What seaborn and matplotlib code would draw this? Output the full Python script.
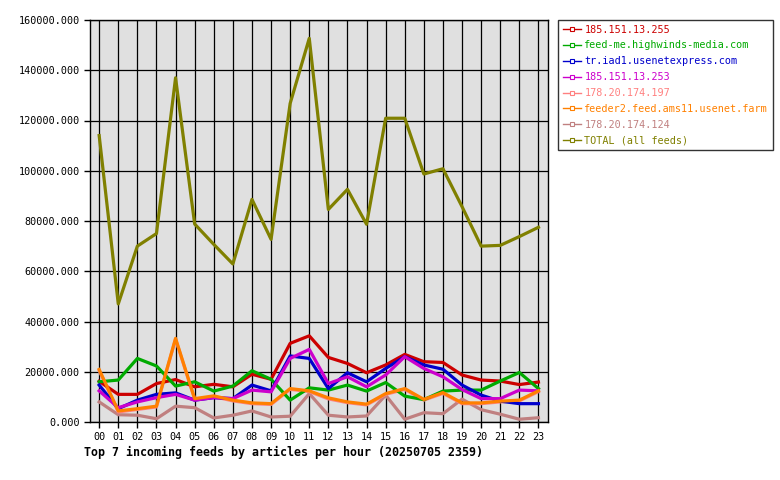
import matplotlib
matplotlib.use('Agg')
import matplotlib.pyplot as plt
from matplotlib.lines import Line2D
import seaborn as sns
import pandas as pd

# Data (articles per hour)
hours = ['00', '01', '02', '03', '04', '05', '06', '07', '08', '09', '10', '11',
         '12', '13', '14', '15', '16', '17', '18', '19', '20', '21', '22', '23']

feed_names = ['185.151.13.255', 'feed-me.highwinds-media.com', 'tr.iad1.usenetexpress.com',
              '185.151.13.253', '178.20.174.197', 'feeder2.feed.ams11.usenet.farm',
              '178.20.174.124', 'TOTAL (all feeds)']
feed_colors = ['#cc0000', '#00aa00', '#0000cc', '#cc00cc', '#ff8080', '#ff8000',
               '#c08080', '#808000']

red_255 = [16200, 11000, 11000, 15300, 16900, 14000, 15000, 14000, 19000, 17000, 31300, 34300,
           25700, 23300, 19600, 22700, 26900, 24000, 23700, 18700, 16700, 16300, 14900, 15900]
green_feedme = [16000, 16700, 25300, 22300, 14300, 16000, 12300, 14300, 20400, 17000, 8700, 13600,
                12700, 14700, 12300, 15700, 10300, 8900, 12300, 12700, 12700, 16300, 19700, 13300]
blue_iad1 = [14700, 5300, 8700, 11000, 11600, 8700, 9700, 9300, 14700, 12400, 26300, 25300,
             13300, 19600, 16000, 21300, 26000, 22700, 21000, 14700, 10700, 8300, 7300, 7300]
magenta_253 = [12400, 5700, 8000, 9700, 11000, 8700, 9700, 9300, 12700, 12000, 25300, 28900,
               15300, 18000, 14000, 18700, 26000, 21300, 18000, 12900, 9300, 9300, 12700, 12400]
salmon_197 = [20500, 4000, 5000, 6000, 33000, 9000, 10100, 8400, 7300, 7000, 13000, 12100,
              9200, 7700, 6800, 11000, 13000, 8700, 11400, 7300, 7300, 8000, 8400, 12100]
orange_farm = [20900, 4400, 5300, 6300, 33300, 9300, 10400, 8700, 7600, 7300, 13300, 12400,
               9600, 8000, 7100, 11300, 13300, 9000, 11700, 7600, 7600, 8300, 8700, 12400]
brown_124 = [8000, 2900, 2700, 1300, 6300, 5700, 1600, 2700, 4400, 2000, 2300, 11300,
             2700, 2000, 2400, 10700, 1100, 3700, 3300, 9100, 4900, 3100, 1100, 1700]
total_all = [114000, 47000, 70000, 75000, 137000, 78800, 70700, 62900, 88600, 72700, 126800, 152700,
             84600, 92600, 78700, 120900, 120900, 98700, 100800, 85700, 70000, 70300, 73800, 77500]

series = [red_255, green_feedme, blue_iad1, magenta_253, salmon_197, orange_farm, brown_124, total_all]

rows = []
for name, vals in zip(feed_names, series):
    for h, v in enumerate(vals):
        rows.append({'hour': h, 'articles': v, 'feed': name})
df = pd.DataFrame(rows)

plt.rcParams['font.family'] = ['DejaVu Sans Mono']
plt.rcParams['font.size'] = 7.3

fig = plt.figure(figsize=(7.8, 4.8), dpi=100)
ax = fig.add_axes([90 / 780, 1 - 422 / 480, 458 / 780, 402 / 480])
ax.set_facecolor('#e0e0e0')

# drawing order: TOTAL underneath, orange on top
order = [feed_names[i] for i in (7, 6, 4, 0, 1, 2, 3, 5)]
palette = dict(zip(feed_names, feed_colors))
sns.lineplot(data=df, x='hour', y='articles', hue='feed', hue_order=order,
             palette=palette, linewidth=2.3, legend=False, ax=ax)

ax.set_xlim(-0.48, 23.5)
ax.set_ylim(0, 160000)
ax.set_xticks(range(len(hours)))
ax.set_xticklabels(hours)
ax.set_yticks(range(0, 160001, 20000))
ax.set_yticklabels([f'{v}.000' for v in range(0, 160001, 20000)])
ax.grid(True, color='black', linewidth=0.9)
ax.set_axisbelow(True)
ax.tick_params(direction='out', length=4, width=1, color='black', labelsize=7.3)
for s in ax.spines.values():
    s.set_linewidth(1)
    s.set_color('black')
ax.set_xlabel('')
ax.set_ylabel('')

handles = [Line2D([0], [0], color=c, linewidth=1, marker='s', markersize=3,
                  markerfacecolor='white', markeredgecolor=c, markeredgewidth=0.8)
           for c in feed_colors]
leg = fig.legend(handles, feed_names, loc='upper left', bbox_to_anchor=(558 / 780, 1 - 20 / 480),
                 frameon=True, fancybox=False, edgecolor='black', fontsize=7.3,
                 handlelength=1.8, handletextpad=0.35, labelspacing=0.58, borderpad=0.45,
                 borderaxespad=0)
leg.get_frame().set_linewidth(1)
for t, c in zip(leg.get_texts(), feed_colors):
    t.set_color(c)

fig.text(84 / 780, 1 - 452 / 480, 'Top 7 incoming feeds by articles per hour (20250705 2359)',
         fontsize=8.4, fontweight='bold', va='center', ha='left')

fig.savefig('out.png', dpi=100)
plt.close(fig)
